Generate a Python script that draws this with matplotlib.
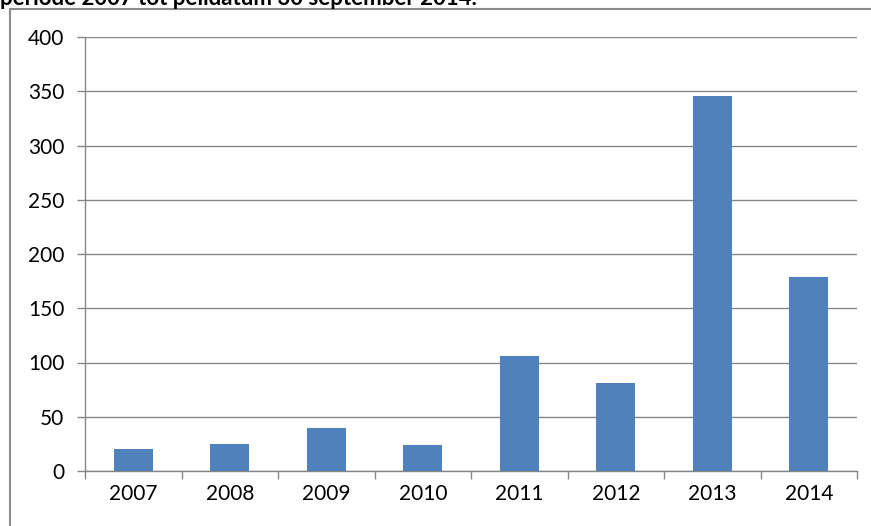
import matplotlib.pyplot as plt
from matplotlib.patches import Rectangle

jaren = ['2007', '2008', '2009', '2010', '2011', '2012', '2013', '2014']
aantallen = [20, 25, 40, 24, 106, 81, 346, 179]
y_ticks = [0, 50, 100, 150, 200, 250, 300, 350, 400]

plt.rcParams['font.family'] = ['Lato', 'DejaVu Sans']

fig = plt.figure(figsize=(8.71, 5.26), dpi=100)
ax = fig.add_axes([85 / 871, 1 - 471 / 526, (857 - 85) / 871, (471 - 37) / 526])

grijs = '#868686'
x = range(len(jaren))
ax.bar(x, aantallen, width=0.4, color='#4F81BD', zorder=3)

ax.set_xlim(-0.5, len(jaren) - 0.5)
ax.set_ylim(0, 400)
ax.set_yticks(y_ticks)
ax.set_yticklabels([str(v) for v in y_ticks], fontsize=15)
ax.set_xticks(list(x))
ax.set_xticklabels(jaren, fontsize=15)
ax.set_xticks([i - 0.5 for i in range(len(jaren) + 1)], minor=True)

ax.grid(axis='y', color=grijs, linewidth=1, zorder=0)
ax.tick_params(axis='x', which='major', length=0, pad=9)
ax.tick_params(axis='x', which='minor', length=6, color=grijs, width=1)
ax.tick_params(axis='y', length=6, color=grijs, width=1, pad=9)

for side in ['top', 'right']:
    ax.spines[side].set_visible(False)
for side in ['left', 'bottom']:
    ax.spines[side].set_color(grijs)
    ax.spines[side].set_linewidth(1)

# rand van het kader (loopt buiten beeld door)
fig.patches.append(Rectangle((10 / 871, -0.1), 1.2, 1 - 9 / 526 + 0.1,
                             transform=fig.transFigure, fill=False,
                             edgecolor='#8C8C8C', linewidth=1.5))

fig.text(0, 1 - 5 / 526, 'periode 2007 tot peildatum 30 september 2014.',
         fontsize=16, fontweight='bold', ha='left', va='baseline')

fig.savefig('out.png', dpi=100)
